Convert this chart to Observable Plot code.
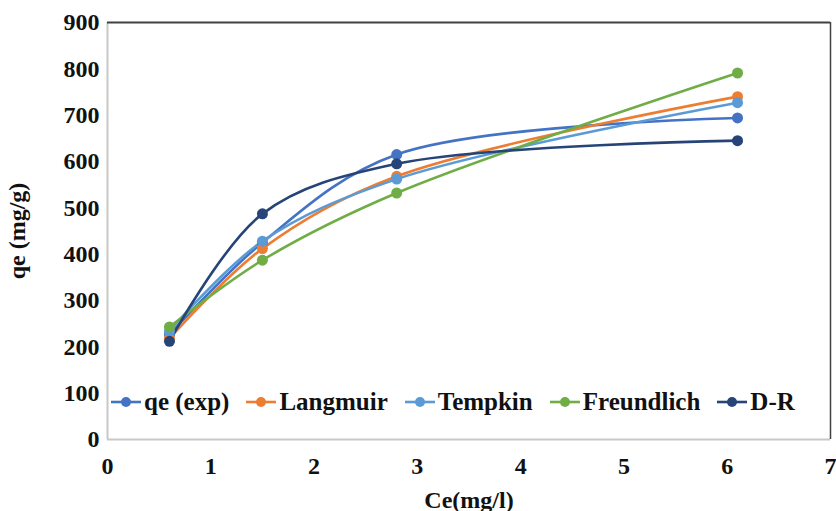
<!DOCTYPE html>
<html>
<head>
<meta charset="utf-8">
<script src="https://cdn.jsdelivr.net/npm/d3@7"></script>
<script src="https://cdn.jsdelivr.net/npm/@observablehq/plot@0.6"></script>
<style>
  body { margin: 0; background: #fff; }
  #wrap { position: relative; width: 836px; height: 511px; font-family: "Liberation Serif", Tinos, "Times New Roman", Times, serif; }
  #legend { position: absolute; left: 111px; top: 388px; display: flex; align-items: center; font-weight: bold; font-size: 25px; color: #111; font-family: "Liberation Serif", Tinos, "Times New Roman", Times, serif; }
  .item { display: flex; align-items: center; margin-right: 17px; }
  .item svg { margin-right: 3px; }
</style>
</head>
<body>
<div id="wrap"><div id="legend"></div></div>
<script>
const ce = [0.6, 1.5, 2.8, 6.1];
const seriesNames = ["qe (exp)", "Langmuir", "Tempkin", "Freundlich", "D-R"];
const qeExp = [226, 425, 615, 694];
const langmuir = [218, 412, 568, 740];
const tempkin = [234, 428, 562, 727];
const freundlich = [243, 387, 532, 791];
const dr = [212, 487, 595, 645];
const colors = ["#4472C4", "#ED7D31", "#5B9BD5", "#70AD47", "#264478"];
const xTicks = [0, 1, 2, 3, 4, 5, 6, 7];
const yTicks = [0, 100, 200, 300, 400, 500, 600, 700, 800, 900];

const allSeries = [qeExp, langmuir, tempkin, freundlich, dr];
const data = [];
allSeries.forEach((vals, si) => vals.forEach((v, i) => data.push({series: seriesNames[si], x: ce[i], y: v})));

const chart = Plot.plot({
  width: 836,
  height: 511,
  marginLeft: 107,
  marginRight: 6,
  marginTop: 22,
  marginBottom: 72,
  style: {fontFamily: "'Liberation Serif', Tinos, 'Times New Roman', Times, serif", fontSize: "24px", fontWeight: "bold", color: "#111", background: "#fff", overflow: "visible"},
  x: {domain: [0, 7], ticks: xTicks, tickFormat: d3.format("d"), tickSize: 0, tickPadding: 17, label: "Ce(mg/l)", labelAnchor: "center", labelOffset: 68, labelArrow: "none"},
  y: {domain: [0, 900], ticks: yTicks, tickFormat: d3.format("d"), tickSize: 0, tickPadding: 8, label: "qe (mg/g)", labelAnchor: "center", labelOffset: 100, labelArrow: "none"},
  color: {domain: seriesNames, range: colors},
  marks: [
    Plot.ruleX([0], {stroke: "#c8c8c8", strokeWidth: 2}),
    Plot.ruleY([0], {stroke: "#c8c8c8", strokeWidth: 2}),
    Plot.ruleY([900], {stroke: "#404040", strokeWidth: 2}),
    Plot.ruleX([7], {stroke: "#404040", strokeWidth: 1.5}),
    Plot.line(data, {x: "x", y: "y", z: "series", stroke: "series", strokeWidth: 2.6, curve: "catmull-rom"}),
    Plot.dot(data, {x: "x", y: "y", fill: "series", r: 5.5, stroke: "none"})
  ]
});
document.getElementById("wrap").prepend(chart);

const legend = document.getElementById("legend");
seriesNames.forEach((name, i) => {
  const item = document.createElement("div");
  item.className = "item";
  item.innerHTML = `<svg width="30" height="12"><line x1="0" y1="6" x2="30" y2="6" stroke="${colors[i]}" stroke-width="2.6"/><circle cx="15" cy="6" r="5" fill="${colors[i]}"/></svg><span>${name}</span>`;
  legend.appendChild(item);
});
</script>
</body>
</html>
